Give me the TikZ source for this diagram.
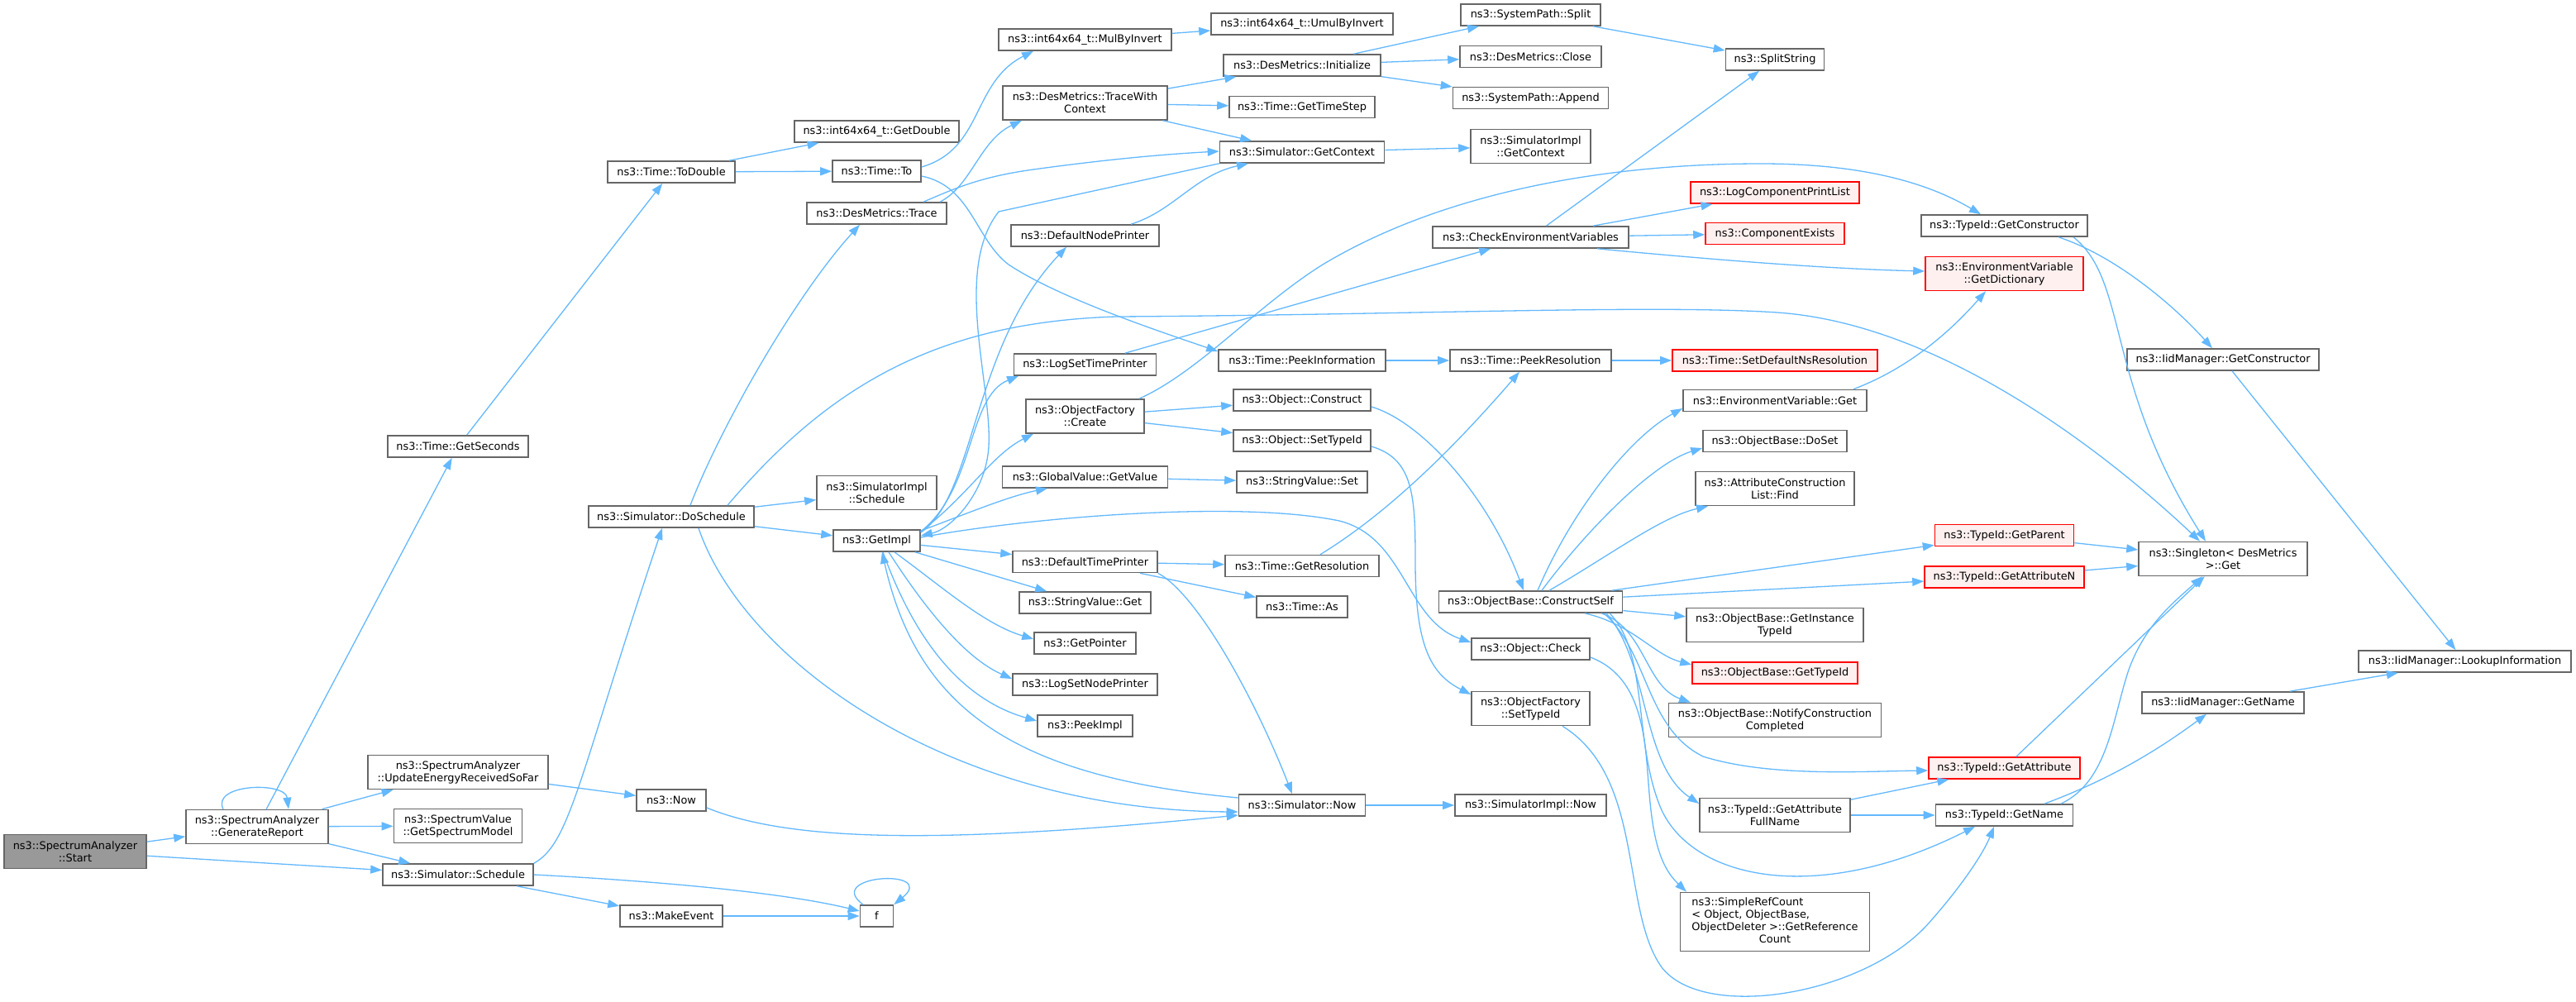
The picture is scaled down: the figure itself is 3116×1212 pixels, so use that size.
\documentclass[tikz,border=0pt]{standalone}
\usepackage{fontspec}
\setmainfont{DejaVu Sans}
\usetikzlibrary{arrows.meta}
\definecolor{edgec}{HTML}{63B8FF}
\definecolor{nodeb}{HTML}{666666}
\definecolor{redb}{HTML}{FF0000}
\definecolor{redf}{HTML}{FFF0F0}
\definecolor{startf}{HTML}{999999}
\newcommand\nfont{\fontsize{12.9pt}{15pt}\selectfont}
\tikzset{
  nb/.style={draw=nodeb, fill=white, line width=1.6pt, inner sep=0pt, minimum height=26pt, align=center, font=\nfont},
  two/.style={minimum height=41pt},
  redn/.style={draw=redb, fill=redf},
  ed/.style={draw=edgec, line width=1.3pt, -{Triangle[length=14pt,width=10pt]}}
}
\begin{document}
\begin{tikzpicture}[x=1pt,y=-1pt]
\useasboundingbox (0,0) rectangle (3116,1212);
% rank 0-4
\node[nb,two,fill=startf,minimum width=172pt] (start) at (91,1030) {ns3::SpectrumAnalyzer\\::Start};
\node[nb,two,minimum width=172pt] (gr) at (311,1000) {ns3::SpectrumAnalyzer\\::GenerateReport};
\node[nb,minimum width=170pt] (gsec) at (554,540) {ns3::Time::GetSeconds};
\node[nb,two,minimum width=218pt] (ue) at (554,934) {ns3::SpectrumAnalyzer\\::UpdateEnergyReceivedSoFar};
\node[nb,two,minimum width=155pt] (gsm) at (554,999) {ns3::SpectrumValue\\::GetSpectrumModel};
\node[nb,minimum width=182pt] (sched) at (554,1058) {ns3::Simulator::Schedule};
\node[nb,minimum width=154pt] (todbl) at (812,208) {ns3::Time::ToDouble};
\node[nb,minimum width=200pt] (dosch) at (812,625) {ns3::Simulator::DoSchedule};
\node[nb,minimum width=84pt] (now) at (812,968) {ns3::Now};
\node[nb,minimum width=124pt] (mkev) at (812,1108) {ns3::MakeEvent};
\node[nb,minimum width=199pt] (gdbl) at (1060.5,159) {ns3::int64x64\_t::GetDouble};
\node[nb,minimum width=107pt] (timeto) at (1060.5,207) {ns3::Time::To};
\node[nb,minimum width=169pt] (trace) at (1060.5,258) {ns3::DesMetrics::Trace};
\node[nb,two,minimum width=145pt] (simplsched) at (1060.5,596) {ns3::SimulatorImpl\\::Schedule};
\node[nb,minimum width=105pt] (getimpl) at (1060.5,654) {ns3::GetImpl};
\node[nb,minimum width=40pt] (f) at (1060.5,1108) {f};
% rank 5
\node[nb,minimum width=209pt] (mulinv) at (1312.5,48) {ns3::int64x64\_t::MulByInvert};
\node[nb,two,minimum width=199pt] (twc) at (1312.5,124.5) {ns3::DesMetrics::TraceWith\\Context};
\node[nb,minimum width=179pt] (dnp) at (1312.5,285) {ns3::DefaultNodePrinter};
\node[nb,minimum width=172pt] (lstp) at (1312.5,441) {ns3::LogSetTimePrinter};
\node[nb,two,minimum width=143pt] (ofcreate) at (1312.5,503.5) {ns3::ObjectFactory\\::Create};
\node[nb,minimum width=200pt] (gvget) at (1312.5,577) {ns3::GlobalValue::GetValue};
\node[nb,minimum width=175pt] (dtp) at (1312.5,679.5) {ns3::DefaultTimePrinter};
\node[nb,minimum width=159pt] (svget) at (1312.5,729) {ns3::StringValue::Get};
\node[nb,minimum width=123pt] (getptr) at (1312.5,778) {ns3::GetPointer};
\node[nb,minimum width=175pt] (lsnp) at (1312.5,828) {ns3::LogSetNodePrinter};
\node[nb,minimum width=115pt] (peekimpl) at (1312.5,878) {ns3::PeekImpl};
% rank 6
\node[nb,minimum width=220pt] (umulinv) at (1575,29) {ns3::int64x64\_t::UmulByInvert};
\node[nb,minimum width=190pt] (dminit) at (1575,79) {ns3::DesMetrics::Initialize};
\node[nb,minimum width=176pt] (gettimestep) at (1575,129.5) {ns3::Time::GetTimeStep};
\node[nb,minimum width=199pt] (getctx) at (1575,184) {ns3::Simulator::GetContext};
\node[nb,minimum width=202pt] (peekinfo) at (1575,436) {ns3::Time::PeekInformation};
\node[nb,minimum width=166pt] (objconstruct) at (1575,484) {ns3::Object::Construct};
\node[nb,minimum width=166pt] (objsettid) at (1575,533) {ns3::Object::SetTypeId};
\node[nb,minimum width=158pt] (svset) at (1575,583) {ns3::StringValue::Set};
\node[nb,minimum width=186pt] (getres) at (1575,684.5) {ns3::Time::GetResolution};
\node[nb,minimum width=110pt] (timeas) at (1575,734) {ns3::Time::As};
\node[nb,minimum width=153pt] (simnow) at (1575,974) {ns3::Simulator::Now};
% rank 7
\node[nb,minimum width=169pt] (split) at (1851.5,18) {ns3::SystemPath::Split};
\node[nb,minimum width=171pt] (dmclose) at (1851.5,68.5) {ns3::DesMetrics::Close};
\node[nb,minimum width=188pt] (append) at (1851.5,118.5) {ns3::SystemPath::Append};
\node[nb,two,minimum width=145pt] (sigetctx) at (1851.5,177) {ns3::SimulatorImpl\\::GetContext};
\node[nb,minimum width=237pt] (checkenv) at (1851.5,287) {ns3::CheckEnvironmentVariables};
\node[nb,minimum width=195pt] (peekres) at (1851.5,436) {ns3::Time::PeekResolution};
\node[nb,minimum width=222pt] (cself) at (1851.5,728) {ns3::ObjectBase::ConstructSelf};
\node[nb,minimum width=143pt] (objcheck) at (1851.5,785) {ns3::Object::Check};
\node[nb,two,minimum width=143pt] (ofsettid) at (1851.5,857) {ns3::ObjectFactory\\::SetTypeId};
\node[nb,minimum width=183pt] (sinow) at (1851.5,974) {ns3::SimulatorImpl::Now};
% rank 8
\node[nb,minimum width=119pt] (splitstr) at (2147,72) {ns3::SplitString};
\node[nb,redn,minimum width=204pt] (lcpl) at (2147,233) {ns3::LogComponentPrintList};
\node[nb,redn,minimum width=168pt] (compexists) at (2147,282.5) {ns3::ComponentExists};
\node[nb,redn,minimum width=248pt] (setdefns) at (2147,436) {ns3::Time::SetDefaultNsResolution};
\node[nb,minimum width=222pt] (envget) at (2147,484.5) {ns3::EnvironmentVariable::Get};
\node[nb,minimum width=174pt] (doset) at (2147,533.5) {ns3::ObjectBase::DoSet};
\node[nb,two,minimum width=192pt] (attrfind) at (2147,591) {ns3::AttributeConstruction\\List::Find};
\node[nb,two,minimum width=214pt] (getinsttid) at (2147,756) {ns3::ObjectBase::GetInstance\\TypeId};
\node[nb,redn,minimum width=200pt] (obgettid) at (2147,814) {ns3::ObjectBase::GetTypeId};
\node[nb,two,minimum width=257pt] (notify) at (2147,871) {ns3::ObjectBase::NotifyConstruction\\Completed};
\node[nb,two,minimum width=182pt] (fullname) at (2147,986) {ns3::TypeId::GetAttribute\\FullName};
\node[nb,minimum width=229pt,minimum height=71pt] (simpleref) at (2147,1115) {\begin{tabular}{@{}l@{}}ns3::SimpleRefCount\\< Object, ObjectBase,\\\multicolumn{1}{@{}c@{}}{ObjectDeleter >::GetReference}\\\multicolumn{1}{@{}c@{}}{Count}\end{tabular}};
% rank 9
\node[nb,minimum width=201pt] (getctor) at (2424.5,273) {ns3::TypeId::GetConstructor};
\node[nb,two,redn,minimum width=191pt] (getdict) at (2424.5,331) {ns3::EnvironmentVariable\\::GetDictionary};
\node[nb,redn,minimum width=168pt] (getparent) at (2424.5,647.5) {ns3::TypeId::GetParent};
\node[nb,redn,minimum width=193pt] (getattrn) at (2424.5,698) {ns3::TypeId::GetAttributeN};
\node[nb,redn,minimum width=183pt] (getattr) at (2424.5,929) {ns3::TypeId::GetAttribute};
\node[nb,minimum width=166pt] (getname) at (2424.5,986) {ns3::TypeId::GetName};
% rank 10-11
\node[nb,minimum width=232pt] (iidctor) at (2689,435) {ns3::IidManager::GetConstructor};
\node[nb,two,minimum width=204pt] (singleton) at (2689,676) {ns3::Singleton< DesMetrics\\ >::Get};
\node[nb,minimum width=196pt] (iidname) at (2689,850) {ns3::IidManager::GetName};
\node[nb,minimum width=257pt] (lookup) at (2981.5,800) {ns3::IidManager::LookupInformation};

% ---------- straight edges
\draw[ed] (start) -- (gr);
\draw[ed] (start) -- (sched);
\draw[ed] (gr) -- (ue);
\draw[ed] (gr) -- (gsm);
\draw[ed] (gr) -- (sched);
\draw[ed] (gr) -- (gsec);
\draw[ed] (gsec) -- (todbl);
\draw[ed] (ue) -- (now);
\draw[ed] (sched) -- (mkev);
\draw[ed] (mkev) -- (f);
\draw[ed] (todbl) -- (gdbl);
\draw[ed] (todbl) -- (timeto);
\draw[ed] (mulinv) -- (umulinv);
\draw[ed] (dosch) -- (simplsched);
\draw[ed] (dosch) -- (getimpl);
\draw[ed] (twc) -- (dminit);
\draw[ed] (twc) -- (gettimestep);
\draw[ed] (twc) -- (getctx);
\draw[ed] (dminit) -- (split);
\draw[ed] (dminit) -- (dmclose);
\draw[ed] (dminit) -- (append);
\draw[ed] (getctx) -- (sigetctx);
\draw[ed] (getimpl) -- (svget);
\draw[ed] (getimpl) -- (dtp);
\draw[ed] (dtp) -- (getres);
\draw[ed] (dtp) -- (timeas);
\draw[ed] (gvget) -- (svset);
\draw[ed] (ofcreate) -- (objconstruct);
\draw[ed] (ofcreate) -- (objsettid);
\draw[ed] (lstp) -- (checkenv);
\draw[ed] (simnow) -- (sinow);
\draw[ed] (peekinfo) -- (peekres);
\draw[ed] (peekres) -- (setdefns);
\draw[ed] (checkenv) -- (lcpl);
\draw[ed] (checkenv) -- (compexists);
\draw[ed] (checkenv) -- (splitstr);
\draw[ed] (split) -- (splitstr);
\draw[ed] (fullname) -- (getattr);
\draw[ed] (fullname) -- (getname);
\draw[ed] (getparent) -- (singleton);
\draw[ed] (getattrn) -- (singleton);
\draw[ed] (getattr) -- (singleton);
\draw[ed] (iidctor) -- (lookup);
\draw[ed] (iidname) -- (lookup);
\draw[ed] (cself) -- (getinsttid);
\draw[ed] (cself) -- (getparent);
\draw[ed] (cself) -- (getattrn);

% ---------- curved edges
\draw[ed] (gr.north -| 270,0) .. controls (255,948) and (345,945) .. (gr.north -| 349,0);
\draw[ed] (f.north -| 1044,0) .. controls (995,1058) and (1135,1050) .. (f.north east);
\draw[ed] (sched.north east) .. controls (690,1020) and (700,940) .. (dosch.south -| 801,0);
\draw[ed] (sched.east) .. controls (800,1066) and (950,1080) .. (f.west |- 0,1102);
\draw[ed] (now.east |- 0,977) .. controls (960,1020) and (1150,1020) .. (simnow.west |- 0,986);
\draw[ed] (dosch.south -| 845,0) .. controls (900,800) and (1150,980) .. (simnow.west |- 0,982);
\draw[ed] (simnow.west |- 0,965) .. controls (1230,940) and (1110,860) .. (getimpl.south -| 1067,0);
\draw[ed] (dtp.south east) .. controls (1450,720) and (1520,850) .. (simnow.north -| 1563,0);
\draw[ed] (dosch.north -| 835,0) .. controls (870,520) and (960,360) .. (trace.south -| 1040,0);
\draw[ed] (dosch.north -| 880,0) .. controls (1000,470) and (1130,390) .. (1350,383) .. controls (1700,381) and (2000,368) .. (2150,378) .. controls (2350,392) and (2550,550) .. (singleton.north -| 2661,0);
\draw[ed] (trace.north -| 1137,0) .. controls (1175,225) and (1185,170) .. (twc.south -| 1236,0);
\draw[ed] (trace.north -| 1117,0) .. controls (1155,228) and (1185,214) .. (1250,205) .. controls (1330,194) and (1400,187) .. (getctx.west |- 0,183);
\draw[ed] (timeto.east |- 0,202) .. controls (1190,180) and (1175,100) .. (mulinv.south -| 1250,0);
\draw[ed] (timeto.east |- 0,213) .. controls (1175,225) and (1180,290) .. (1220,320) .. controls (1280,360) and (1400,400) .. (peekinfo.west |- 0,425);
\draw[ed] (getctx.south west) -- (1208,256) .. controls (1150,330) and (1205,480) .. (1195,550) .. controls (1188,600) and (1150,640) .. (getimpl.east |- 0,648);
\draw[ed] (dnp.north -| 1368,0) .. controls (1420,255) and (1445,212) .. (getctx.south -| 1510,0);
\draw[ed] (getimpl.east |- 0,644) .. controls (1180,600) and (1175,420) .. (dnp.south -| 1290,0);
\draw[ed] (getimpl.east |- 0,643) .. controls (1180,590) and (1170,480) .. (lstp.south -| 1232,0);
\draw[ed] (getimpl.east |- 0,643) .. controls (1170,600) and (1200,550) .. (ofcreate.south -| 1250,0);
\draw[ed] (getimpl.east |- 0,642) .. controls (1160,625) and (1220,600) .. (gvget.south -| 1267,0);
\draw[ed] (getimpl.south -| 1082,0) .. controls (1140,710) and (1190,755) .. (getptr.west |- 0,773);
\draw[ed] (getimpl.south -| 1075,0) .. controls (1115,730) and (1165,795) .. (lsnp.west |- 0,821);
\draw[ed] (getimpl.south -| 1068,0) .. controls (1105,770) and (1160,845) .. (peekimpl.west |- 0,872);
\draw[ed] (getimpl.east |- 0,650) .. controls (1250,625) and (1500,605) .. (1620,630) .. controls (1700,650) and (1700,750) .. (objcheck.west |- 0,777);
\draw[ed] (objsettid.east |- 0,540) .. controls (1710,555) and (1712,600) .. (1712,680) .. controls (1712,780) and (1730,815) .. (ofsettid.west |- 0,840);
\draw[ed] (getres.north -| 1597,0) .. controls (1680,620) and (1760,540) .. (peekres.south -| 1838,0);
\draw[ed] (objconstruct.east |- 0,492) .. controls (1720,510) and (1800,600) .. (cself.north -| 1843,0);
\draw[ed] (ofcreate.north -| 1378,0) .. controls (1450,450) and (1520,370) .. (1600,320) .. controls (1750,230) and (1950,198) .. (2130,198) .. controls (2250,198) and (2330,220) .. (getctor.north -| 2396,0);
\draw[ed] (checkenv.south -| 1932,0) .. controls (2050,312) and (2200,325) .. (getdict.west |- 0,328);
\draw[ed] (envget.north -| 2242,0) .. controls (2310,445) and (2360,400) .. (getdict.south -| 2402,0);
\draw[ed] (cself.north -| 1860,0) .. controls (1900,620) and (1970,530) .. (envget.west |- 0,494);
\draw[ed] (cself.north -| 1865,0) .. controls (1920,640) and (2000,560) .. (doset.west |- 0,542);
\draw[ed] (cself.north -| 1874,0) .. controls (1950,670) and (2010,625) .. (attrfind.south -| 2066,0);
\draw[ed] (cself.south -| 1917,0) .. controls (1975,755) and (2000,792) .. (obgettid.west |- 0,804);
\draw[ed] (cself.south -| 1937,0) .. controls (1990,760) and (1990,830) .. (notify.north -| 2045,0);
\draw[ed] (cself.south -| 1940,0) .. controls (1995,790) and (1990,880) .. (2060,915) .. controls (2140,940) and (2250,933) .. (getattr.west |- 0,932);
\draw[ed] (cself.south -| 1943,0) .. controls (1995,800) and (1985,925) .. (fullname.west |- 0,972);
\draw[ed] (cself.south -| 1947,0) .. controls (1995,790) and (1975,900) .. (2010,980) .. controls (2050,1065) and (2200,1095) .. (getname.south -| 2389,0);
\draw[ed] (objcheck.east |- 0,795) .. controls (1990,820) and (1990,900) .. (1995,960) .. controls (2000,1020) and (2010,1050) .. (simpleref.north -| 2040,0);
\draw[ed] (ofsettid.south -| 1890,0) .. controls (1990,940) and (1960,1100) .. (2010,1170) .. controls (2060,1235) and (2250,1205) .. (2330,1120) .. controls (2375,1070) and (2400,1030) .. (getname.south -| 2412,0);
\draw[ed] (getname.north -| 2493,0) .. controls (2550,945) and (2555,870) .. (2575,810) .. controls (2595,755) and (2630,728) .. (singleton.south -| 2664,0);
\draw[ed] (getname.north -| 2473,0) .. controls (2560,940) and (2620,900) .. (iidname.south -| 2669,0);
\draw[ed] (getctor.south -| 2508,0) .. controls (2575,340) and (2545,460) .. (singleton.north -| 2668,0);
\draw[ed] (getctor.south -| 2490,0) .. controls (2560,310) and (2630,370) .. (iidctor.north -| 2676,0);
\end{tikzpicture}
\end{document}
